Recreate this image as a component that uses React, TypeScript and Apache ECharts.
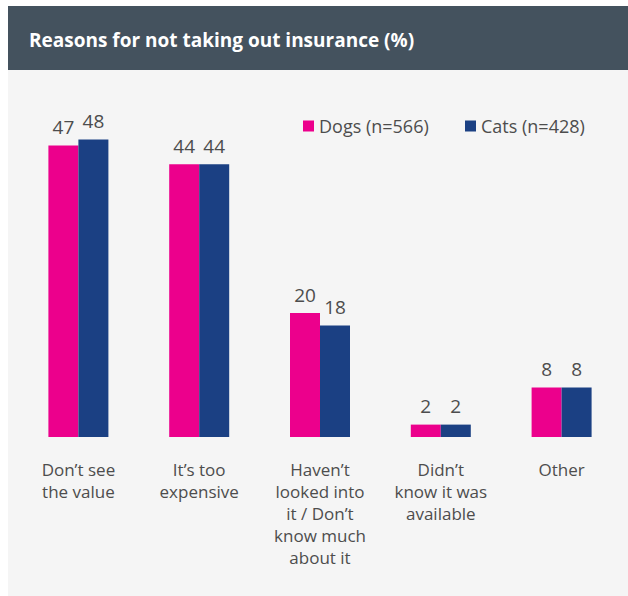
import React, { useEffect, useRef } from "react";
import * as echarts from "echarts";

const categories = [
  "Don’t see\nthe value",
  "It’s too\nexpensive",
  "Haven’t\nlooked into\nit / Don’t\nknow much\nabout it",
  "Didn’t\nknow it was\navailable",
  "Other",
];
const dogs = [47, 44, 20, 2, 8];
const cats = [48, 44, 18, 2, 8];
const seriesNames = ["Dogs (n=566)", "Cats (n=428)"];
const titleText = "Reasons for not taking out insurance (%)";

const FONT = "'Open Sans', 'Noto Sans', sans-serif";
const TEXT = "#4d4d4d";

export default function App() {
  const ref = useRef<HTMLDivElement>(null);
  useEffect(() => {
    if (!ref.current) return;
    const chart = echarts.init(ref.current, undefined, { renderer: "svg" });
    const legendBase = {
      top: 112,
      icon: "rect",
      itemWidth: 11,
      itemHeight: 11,
      textStyle: { color: TEXT, fontSize: 18, fontFamily: FONT },
    };
    chart.setOption({
      animation: false,
      backgroundColor: "#ffffff",
      textStyle: { fontFamily: FONT },
      graphic: [
        { type: "rect", z: -10, shape: { x: 8, y: 6, width: 620, height: 590 }, style: { fill: "#f5f5f5" } },
        { type: "rect", z: -9, shape: { x: 8, y: 6, width: 620, height: 64 }, style: { fill: "#44525e" } },
        {
          type: "text",
          x: 29,
          y: 40,
          style: {
            text: titleText,
            fill: "#ffffff",
            font: `bold 19px ${FONT}`,
            verticalAlign: "middle",
          },
        },
      ],
      legend: [
        { ...legendBase, left: 298, data: [seriesNames[0]] },
        { ...legendBase, left: 460, data: [seriesNames[1]] },
      ],
      grid: { left: 18, right: 6, top: 65, bottom: 159 },
      xAxis: {
        type: "category",
        data: categories,
        axisLine: { show: false },
        axisTick: { show: false },
        axisLabel: {
          color: TEXT,
          fontSize: 17,
          lineHeight: 22,
          margin: 21,
          interval: 0,
          fontFamily: FONT,
        },
      },
      yAxis: { type: "value", min: 0, max: 60, show: false, splitLine: { show: false } },
      series: [
        {
          name: seriesNames[0],
          type: "bar",
          data: dogs,
          barWidth: 30,
          barGap: "0%",
          itemStyle: { color: "#ec008c" },
          label: { show: true, position: "top", distance: 9, color: TEXT, fontSize: 19, fontFamily: FONT },
        },
        {
          name: seriesNames[1],
          type: "bar",
          data: cats,
          barWidth: 30,
          barGap: "0%",
          itemStyle: { color: "#1b4083" },
          label: { show: true, position: "top", distance: 9, color: TEXT, fontSize: 19, fontFamily: FONT },
        },
      ],
    });
    return () => chart.dispose();
  }, []);
  return <div ref={ref} style={{ position: "fixed", left: 0, top: 0, width: 628, height: 596 }} />;
}
